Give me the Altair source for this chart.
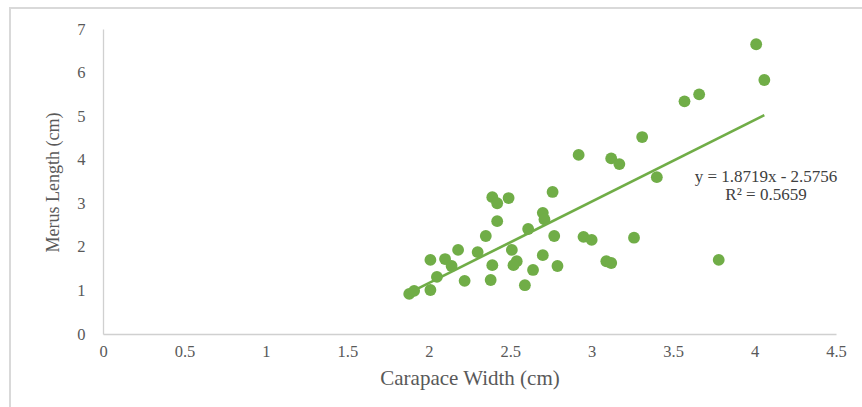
import altair as alt
import pandas as pd

# Carapace width (cm) and merus length (cm) of each specimen
carapace_width = [
    1.88, 1.91, 2.01, 2.01, 2.05, 2.10, 2.14, 2.18, 2.22, 2.30,
    2.35, 2.38, 2.39, 2.39, 2.42, 2.49, 2.42, 2.51, 2.54, 2.52,
    2.59, 2.64, 2.61, 2.70, 2.71, 2.70, 2.77, 2.76, 2.79, 2.92,
    2.95, 3.00, 3.12, 3.17, 3.09, 3.12, 3.26, 3.40, 3.31, 3.57,
    3.66, 4.01, 4.06, 3.78,
]
merus_length = [
    0.92, 0.99, 1.01, 1.70, 1.31, 1.72, 1.56, 1.93, 1.22, 1.88,
    2.25, 1.24, 1.58, 3.14, 3.00, 3.12, 2.59, 1.93, 1.67, 1.58,
    1.12, 1.47, 2.41, 2.78, 2.63, 1.81, 2.25, 3.26, 1.56, 4.11,
    2.23, 2.16, 4.03, 3.90, 1.67, 1.63, 2.21, 3.60, 4.52, 5.34,
    5.50, 6.65, 5.83, 1.70,
]

# Linear trend line fitted to the specimens
slope = 1.8719
intercept = -2.5756
r_squared = 0.5659

x_ticks = [0, 0.5, 1, 1.5, 2, 2.5, 3, 3.5, 4, 4.5]
y_ticks = [0, 1, 2, 3, 4, 5, 6, 7]

points = pd.DataFrame({"cw": carapace_width, "ml": merus_length})
x_lo, x_hi = min(carapace_width), max(carapace_width)
trend = pd.DataFrame({
    "cw": [x_lo, x_hi],
    "ml": [slope * x_lo + intercept, slope * x_hi + intercept],
})

GREEN = "#70ad47"
TEXT = "#595959"
FONT = "Liberation Serif"

x_enc = alt.X(
    "cw:Q",
    scale=alt.Scale(domain=[0, 4.5], nice=False, zero=False),
    axis=alt.Axis(
        values=x_ticks, format="~g", title="Carapace Width (cm)", grid=False,
        ticks=False, tickSize=0, domainColor="#d0d0d0", domainWidth=1.3,
        labelFont=FONT, labelFontSize=16.5, labelColor=TEXT, labelPadding=9,
        labelFlush=False,
        titleFont=FONT, titleFontSize=21, titleFontWeight="normal",
        titleColor=TEXT, titlePadding=8,
    ),
)
y_enc = alt.Y(
    "ml:Q",
    scale=alt.Scale(domain=[0, 7], nice=False, zero=False),
    axis=alt.Axis(
        values=y_ticks, format="~g", title="Merus Length (cm)", grid=False,
        ticks=False, tickSize=0, domainColor="#d0d0d0", domainWidth=1.3,
        labelFont=FONT, labelFontSize=16.5, labelColor=TEXT, labelPadding=18,
        labelFlush=False,
        titleFont=FONT, titleFontSize=18, titleFontWeight="normal",
        titleColor=TEXT, titleX=-41, titleY=153, titleAngle=270,
        titleAlign="center", titleBaseline="bottom",
    ),
)

frame = alt.Chart(pd.DataFrame({"k": [0]})).mark_rect(
    fill=None, stroke="#d9d9d9", strokeWidth=2
).encode(
    x=alt.value(-93), x2=alt.value(780), y=alt.value(-21), y2=alt.value(400)
)

dots = alt.Chart(points).mark_circle(size=140, color=GREEN, opacity=1).encode(
    x=x_enc, y=y_enc
)

line = alt.Chart(trend).mark_line(color=GREEN, strokeWidth=2.6).encode(
    x=x_enc, y=y_enc
)

eq_text = f"y = {slope}x - {abs(intercept)}"
r2_text = f"R² = {r_squared}"
text_style = dict(font=FONT, fontSize=17, color="#404040", align="center",
                  baseline="middle")
eq_label = alt.Chart(pd.DataFrame({"t": [eq_text]})).mark_text(**text_style).encode(
    text="t:N", x=alt.value(663), y=alt.value(148)
)
r2_label = alt.Chart(pd.DataFrame({"t": [r2_text]})).mark_text(**text_style).encode(
    text="t:N", x=alt.value(663), y=alt.value(166)
)

chart = alt.layer(frame, line, dots, eq_label, r2_label).properties(
    width=733, height=305,
    padding={"left": 103, "top": 29, "right": 26, "bottom": 73},
    autosize=alt.AutoSizeParams(type="none"),
    background="white",
).configure_view(stroke=None)

chart.save("out.html", embed_options={"renderer": "svg", "actions": False})
